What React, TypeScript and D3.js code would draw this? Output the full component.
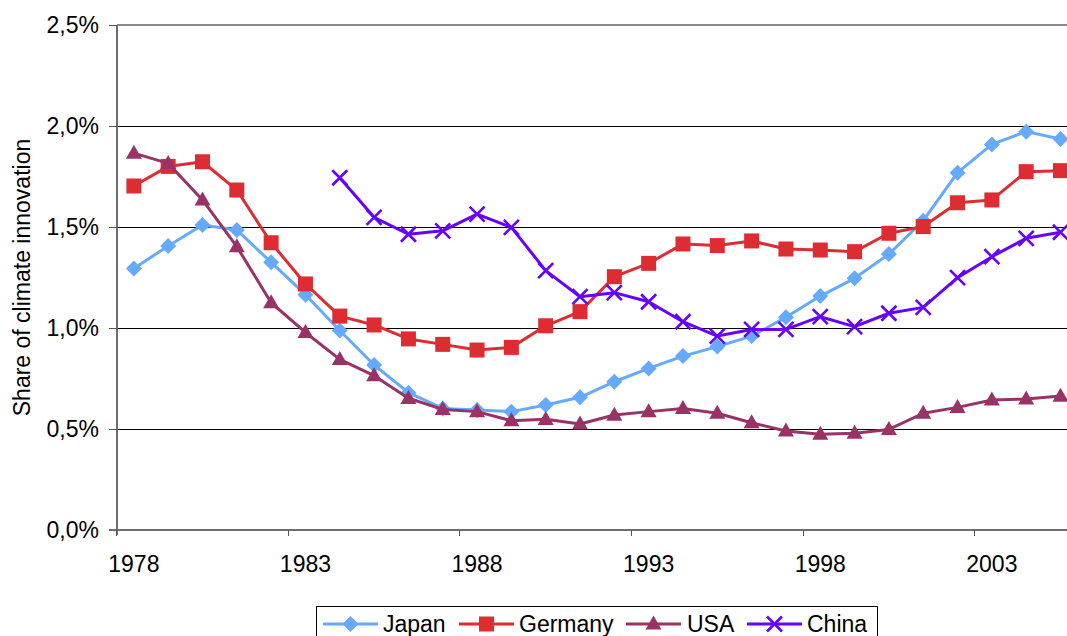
import React from "react";
import * as d3 from "d3";

const years: number[] = d3.range(1978, 2006);
const tickYears: number[] = [1978, 1983, 1988, 1993, 1998, 2003];
const yTicks: number[] = [0, 0.5, 1.0, 1.5, 2.0, 2.5];

const japan: (number | null)[] = [
  1.295, 1.406, 1.51, 1.485, 1.325, 1.165, 0.988, 0.817, 0.68, 0.602,
  0.594, 0.586, 0.619, 0.657, 0.734, 0.8, 0.861, 0.908, 0.96, 1.053,
  1.158, 1.246, 1.366, 1.531, 1.769, 1.909, 1.972, 1.936,
];
const germany: (number | null)[] = [
  1.703, 1.8, 1.823, 1.683, 1.422, 1.218, 1.059, 1.015, 0.946, 0.919,
  0.891, 0.904, 1.011, 1.081, 1.254, 1.32, 1.416, 1.408, 1.431, 1.391,
  1.386, 1.378, 1.469, 1.502, 1.62, 1.634, 1.774, 1.779,
];
const usa: (number | null)[] = [
  1.866, 1.815, 1.634, 1.403, 1.125, 0.978, 0.845, 0.764, 0.652, 0.597,
  0.586, 0.541, 0.548, 0.525, 0.569, 0.586, 0.602, 0.578, 0.531, 0.49,
  0.474, 0.479, 0.498, 0.578, 0.607, 0.644, 0.649, 0.663,
];
const china: (number | null)[] = [
  null, null, null, null, null, null, 1.744, 1.548, 1.464, 1.481,
  1.564, 1.498, 1.284, 1.155, 1.175, 1.13, 1.031, 0.96, 0.993, 0.993,
  1.056, 1.007, 1.073, 1.102, 1.249, 1.353, 1.444, 1.474,
];

type Marker = "diamond" | "square" | "triangle" | "x";
const seriesNames = ["Japan", "Germany", "USA", "China"];
const seriesData = [japan, germany, usa, china];
const seriesColors = ["#66AAFF", "#DD2D33", "#993366", "#6600FF"];
const seriesMarkers: Marker[] = ["diamond", "square", "triangle", "x"];

const FONT = "'Liberation Sans', Arial, sans-serif";
const FS = 23;

function MarkerShape({ type, x, y, color }: { type: Marker; x: number; y: number; color: string }) {
  if (type === "diamond") {
    const r = 8;
    return <path d={`M${x},${y - r}L${x + r},${y}L${x},${y + r}L${x - r},${y}Z`} fill={color} />;
  }
  if (type === "square") {
    const s = 15;
    return <rect x={x - s / 2} y={y - s / 2} width={s} height={s} fill={color} />;
  }
  if (type === "triangle") {
    const w = 16, h = 14;
    return <path d={`M${x},${y - h * 0.6}L${x + w / 2},${y + h * 0.4}L${x - w / 2},${y + h * 0.4}Z`} fill={color} />;
  }
  const r = 7.5;
  return (
    <path
      d={`M${x - r},${y - r}L${x + r},${y + r}M${x - r},${y + r}L${x + r},${y - r}`}
      stroke={color}
      strokeWidth={2.6}
      fill="none"
    />
  );
}

export default function App() {
  const width = 1067, height = 636;
  const left = 116.7;
  const catW = 34.32;
  const top = 25, bottom = 530;

  const x = d3
    .scaleBand<number>()
    .domain(years)
    .range([left, left + catW * years.length])
    .padding(0);
  const cx = (yr: number) => (x(yr) as number) + x.bandwidth() / 2;
  const y = d3.scaleLinear().domain([0, 2.5]).range([bottom, top]);

  const line = d3
    .line<number | null>()
    .defined((d) => d !== null)
    .x((_, i) => cx(years[i]))
    .y((d) => y(d as number));

  const tickBoundaries = tickYears.map((yr) => x(yr) as number);

  const legendItems = [
    { lx: 323, tx: 383 },
    { lx: 459, tx: 519 },
    { lx: 626, tx: 687 },
    { lx: 747, tx: 807 },
  ];
  const legendY = 624;

  return (
    <svg
      width={width}
      height={height}
      style={{ position: "absolute", left: 0, top: 0, background: "#fff" }}
      fontFamily={FONT}
    >
      <defs>
        <clipPath id="clip">
          <rect x={0} y={0} width={width} height={height} />
        </clipPath>
      </defs>
      <rect x={0} y={0} width={width} height={height} fill="#fff" />

      {/* gridlines */}
      {yTicks.slice(1).map((t) => (
        <line
          key={t}
          x1={left}
          x2={width}
          y1={y(t)}
          y2={y(t)}
          stroke={t === 2.5 ? "#888" : "#000"}
          strokeWidth={t === 2.5 ? 2 : 1}
          shapeRendering="crispEdges"
        />
      ))}

      {/* y axis */}
      <line x1={left} x2={left} y1={top} y2={bottom + 5} stroke="#6e6e6e" strokeWidth={2} shapeRendering="crispEdges" />
      {yTicks.map((t) => (
        <g key={t}>
          <line x1={left - 8} x2={left} y1={y(t)} y2={y(t)} stroke="#555" strokeWidth={1} shapeRendering="crispEdges" />
          <text x={99} y={y(t)} dy="0.36em" textAnchor="end" fontSize={FS} fill="#000">
            {t.toFixed(1).replace(".", ",") + "%"}
          </text>
        </g>
      ))}

      {/* x axis */}
      <line x1={left - 8} x2={width} y1={bottom} y2={bottom} stroke="#6e6e6e" strokeWidth={2} shapeRendering="crispEdges" />
      {tickBoundaries.map((bx, i) => (
        <line key={i} x1={bx} x2={bx} y1={bottom} y2={bottom + 6} stroke="#555" strokeWidth={1} shapeRendering="crispEdges" />
      ))}
      {tickYears.map((yr) => (
        <text key={yr} x={cx(yr)} y={572} textAnchor="middle" fontSize={FS} fill="#000">
          {yr}
        </text>
      ))}

      {/* y axis title */}
      <text
        transform={`translate(30,${(top + bottom) / 2}) rotate(-90)`}
        textAnchor="middle"
        fontSize={FS}
        fill="#000"
      >
        Share of climate innovation
      </text>

      {/* series */}
      <g clipPath="url(#clip)">
        {seriesData.map((data, si) => (
          <g key={seriesNames[si]}>
            <path d={line(data) || ""} fill="none" stroke={seriesColors[si]} strokeWidth={3} strokeLinejoin="round" />
            {data.map((d, i) =>
              d === null ? null : (
                <MarkerShape key={i} type={seriesMarkers[si]} x={cx(years[i])} y={y(d)} color={seriesColors[si]} />
              )
            )}
          </g>
        ))}
      </g>

      {/* legend */}
      <rect x={316} y={606} width={561} height={40} fill="#fff" stroke="#000" strokeWidth={1} shapeRendering="crispEdges" />
      {seriesNames.map((name, si) => {
        const it = legendItems[si];
        return (
          <g key={name}>
            <line x1={it.lx} x2={it.lx + 55} y1={legendY} y2={legendY} stroke={seriesColors[si]} strokeWidth={3} />
            <MarkerShape type={seriesMarkers[si]} x={it.lx + 27.5} y={legendY} color={seriesColors[si]} />
            <text x={it.tx} y={legendY} dy="0.36em" fontSize={FS} fill="#000">
              {name}
            </text>
          </g>
        );
      })}
    </svg>
  );
}
